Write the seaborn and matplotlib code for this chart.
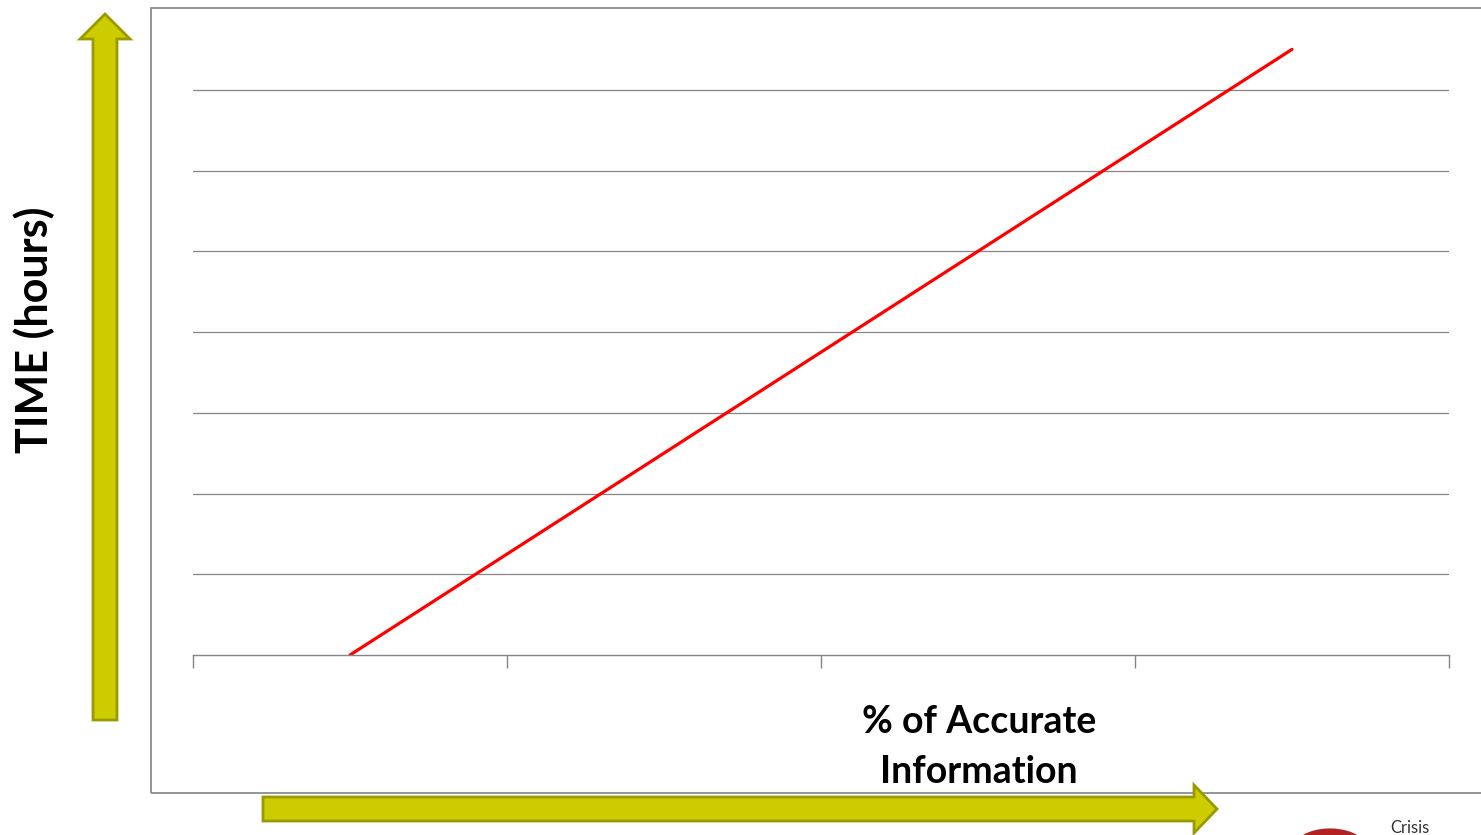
'''
Time vs accuracy of information
'''

import matplotlib
matplotlib.use('Agg')
import matplotlib.pyplot as plt
import matplotlib.patches as patches
import seaborn as sns
import pandas as pd

# Data
categories = [0, 1, 2, 3]
time_hours = [0, 2.5, 5, 7.5]
x_title = '% of Accurate\nInformation'
y_title = 'TIME (hours)'

W, H = 1481, 835

sns.set_style('white')
plt.rcParams['font.family'] = ['Lato', 'DejaVu Sans']

fig = plt.figure(figsize=(W / 100, H / 100), dpi=100)


def fx(px):
    return px / W


def fy(py):
    return 1 - py / H


# plot area
ax = fig.add_axes([fx(193), fy(655), fx(1449) - fx(193), fy(9) - fy(655)])

df = pd.DataFrame({'cat': categories, 'time': time_hours})
sns.lineplot(data=df, x='cat', y='time', ax=ax, color='#ff0000', linewidth=2.3)

ax.set_xlim(-0.5, 3.5)
ax.set_ylim(0, 8)
ax.set_yticks([1, 2, 3, 4, 5, 6, 7])
ax.set_yticklabels([])
ax.set_xticks([-0.5, 0.5, 1.5, 2.5, 3.5])
ax.set_xticklabels([])
ax.tick_params(axis='y', length=0)
ax.tick_params(axis='x', direction='out', length=9, width=1, color='#868686', bottom=True)
ax.grid(axis='y', color='#868686', linewidth=0.9)
ax.set_xlabel('')
ax.set_ylabel('')
for side in ['left', 'top', 'right']:
    ax.spines[side].set_visible(False)
ax.spines['bottom'].set_color('#868686')
ax.spines['bottom'].set_linewidth(1)

# chart border
fig.patches.append(patches.Rectangle((fx(151), fy(793)), fx(1490) - fx(151), fy(8) - fy(793),
                                     transform=fig.transFigure, fill=False,
                                     edgecolor='#8c8c8c', linewidth=1.3))

# arrows
up_arrow = [(93, 720), (117, 720), (117, 39), (130, 39), (105, 14), (80, 39), (93, 39)]
right_arrow = [(263, 797), (1194, 797), (1194, 785), (1217, 809), (1194, 833), (1194, 821), (263, 821)]
for pts in [up_arrow, right_arrow]:
    fig.patches.append(patches.Polygon([(fx(x), fy(y)) for x, y in pts], closed=True,
                                       transform=fig.transFigure, facecolor='#cccc00',
                                       edgecolor='#999900', linewidth=2))

# titles
fig.text(fx(979), fy(747), x_title, ha='center', va='center', fontsize=27,
         fontweight='bold', linespacing=1.6, color='black')
fig.text(fx(34), fy(330), y_title, ha='center', va='center', rotation=90,
         fontsize=31, fontweight='bold', color='black')

# logo in the corner (cut off)
fig.patches.append(patches.Wedge((fx(1330), fy(850)), 0.025, 30, 150,
                                 width=0.008, transform=fig.transFigure, color='#b22222'))
fig.text(fx(1390), fy(820), 'Crisis', ha='left', va='top', fontsize=12, color='#333333')

fig.savefig('out.png', dpi=100)
